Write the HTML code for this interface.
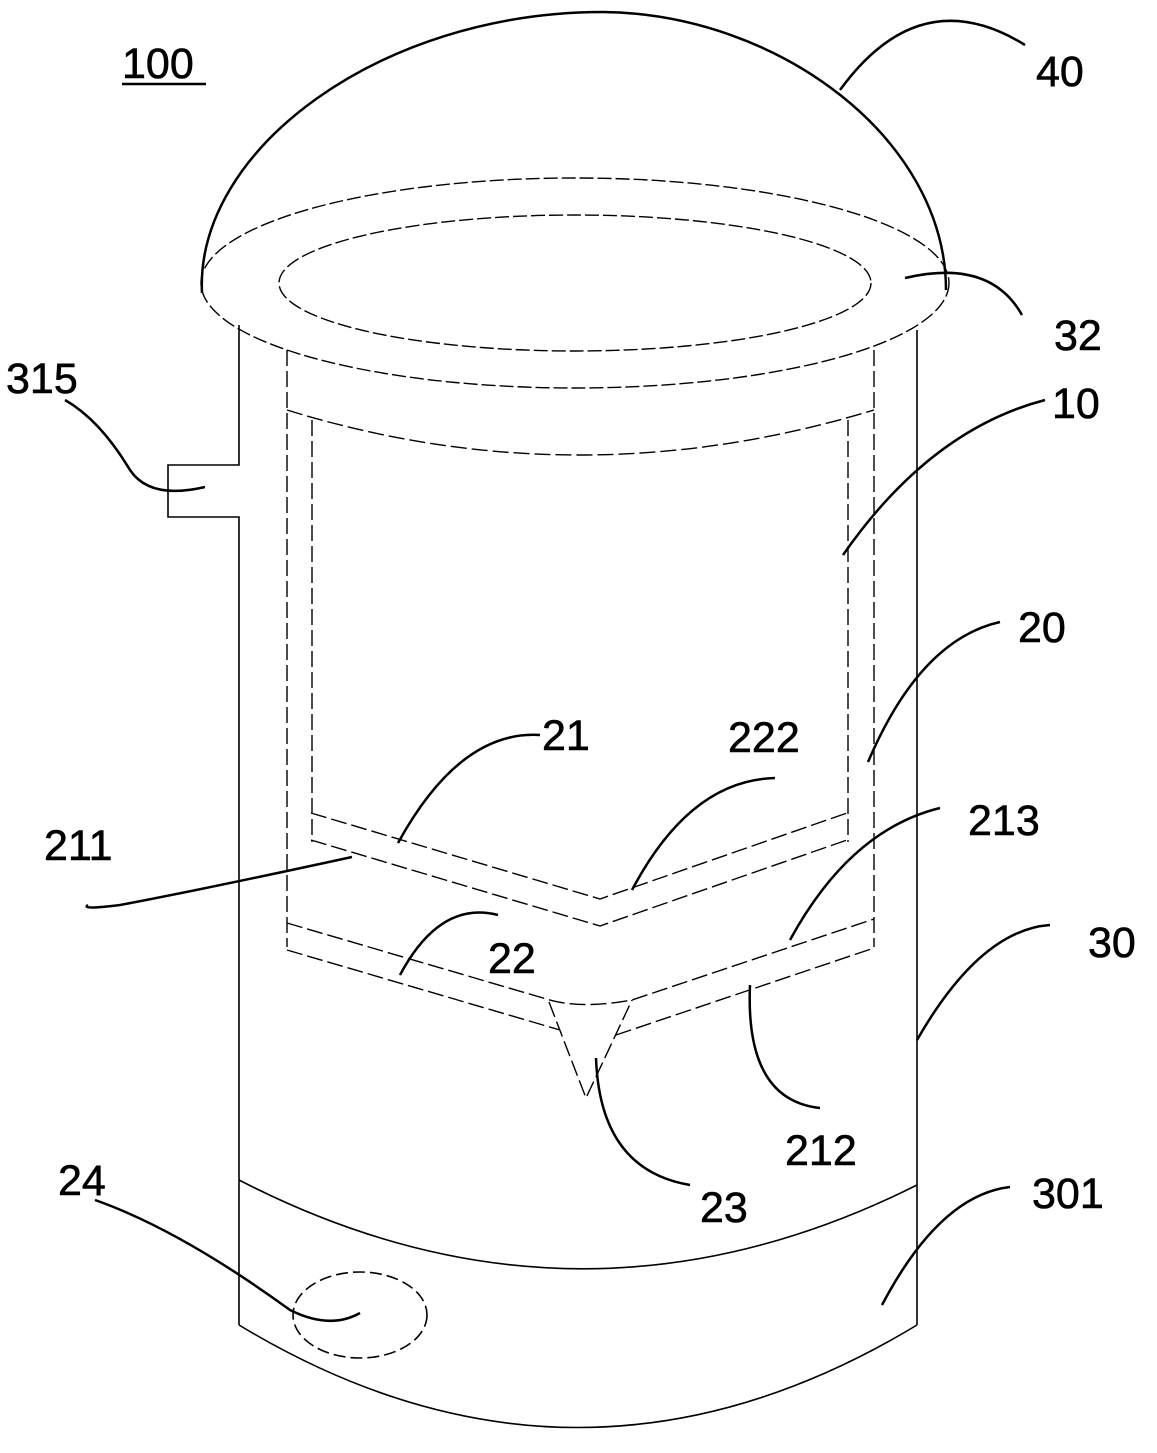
<!DOCTYPE html>
<html><head><meta charset="utf-8"><style>body{margin:0;background:#fff}svg{display:block}</style></head><body>
<svg width="1157" height="1453" viewBox="0 0 1157 1453" xmlns="http://www.w3.org/2000/svg" font-family="Liberation Sans, sans-serif" font-size="43" fill="none" stroke="#000">
<!-- body -->
<g stroke-width="1.6">
<path d="M239 325 V465 H168 V517 H239 V1325"/>
<path d="M917 330 V1325"/>
<path d="M239 1180 Q578 1355 917 1185"/>
<path d="M239 1325 Q578 1530 917 1325"/>
</g>
<!-- dome -->
<path d="M202 293 C195 150 380 12 603 12 C780 14 946 140 946 290" stroke-width="2.5"/>
<g stroke-dasharray="14 4" stroke-width="1.4">
<ellipse cx="575" cy="283" rx="374" ry="105"/>
<ellipse cx="575" cy="283" rx="296" ry="68"/>
</g>
<!-- inner container -->
<g stroke-dasharray="16 5" stroke-width="1.4">
<path d="M287 350 V947"/>
<path d="M874 350 V947"/>
<path d="M287 410 Q578 500 874 410"/>
<path d="M312 420 V842"/>
<path d="M848 420 V842"/>
<path d="M311 813 L600 899 L847 813"/>
<path d="M311 840 L600 926 L847 840"/>
<path d="M287 923 L543 998 Q578 1010 632 1000 L874 919"/>
<path d="M287 950 L560 1030"/>
<path d="M616 1035 L874 948"/>
<path d="M549 1002 L586 1098 L632 1000"/>
</g>
<ellipse cx="360" cy="1315" rx="67" ry="43" stroke-dasharray="12 5" stroke-width="1.6"/>
<!-- leaders -->
<g stroke-width="2.5">
<path d="M840 90 Q920 -20 1025 45"/>
<path d="M905 278 Q990 258 1022 315"/>
<path d="M843 555 Q930 430 1045 400"/>
<path d="M868 762 Q920 640 1000 622"/>
<path d="M398 843 Q460 730 540 735"/>
<path d="M632 890 Q690 780 775 778"/>
<path d="M352 857 Q200 890 120 905 Q80 910 88 905"/>
<path d="M790 940 Q850 830 940 808"/>
<path d="M400 975 Q440 900 498 915"/>
<path d="M750 985 Q745 1100 820 1108"/>
<path d="M596 1058 Q600 1170 690 1185"/>
<path d="M917 1040 Q980 930 1050 925"/>
<path d="M882 1305 Q940 1195 1010 1187"/>
<path d="M360 1313 Q330 1330 290 1310 Q180 1230 95 1200"/>
<path d="M205 487 Q150 500 130 470 Q100 420 65 400"/>
</g>
<g fill="#000" stroke="#000" stroke-width="0.6">
<text x="122" y="78">100</text>
<text x="1036" y="86">40</text>
<text x="1054" y="350">32</text>
<text x="1052" y="418">10</text>
<text x="1018" y="642">20</text>
<text x="542" y="750">21</text>
<text x="728" y="752">222</text>
<text x="44" y="860">211</text>
<text x="968" y="835">213</text>
<text x="488" y="973">22</text>
<text x="785" y="1165">212</text>
<text x="700" y="1222">23</text>
<text x="1088" y="957">30</text>
<text x="1032" y="1208">301</text>
<text x="58" y="1195">24</text>
<text x="6" y="393">315</text>
</g>
<path d="M122 84 H206" stroke-width="2.5"/>
</svg>
</body></html>
